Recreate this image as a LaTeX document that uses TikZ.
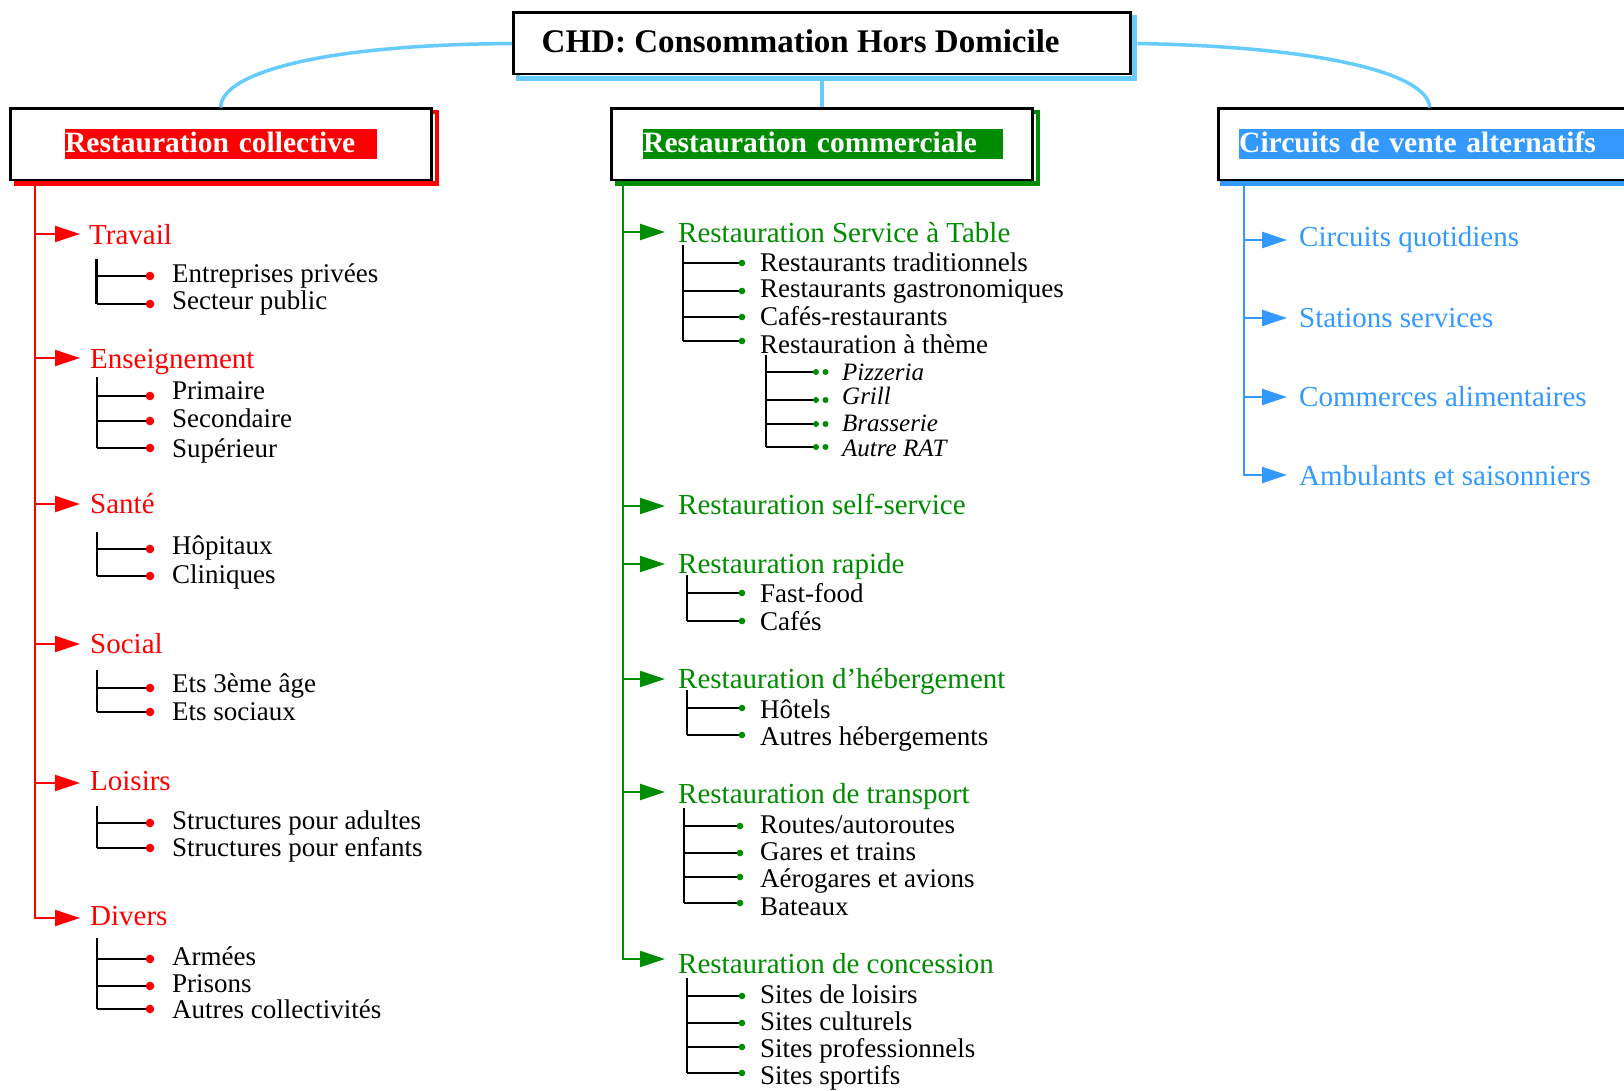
\documentclass[tikz,border=0pt]{standalone}
\usepackage{fontspec}
\setmainfont{Liberation Serif}
\usetikzlibrary{arrows.meta}
\definecolor{cred}{RGB}{255,0,0}
\definecolor{cgreen}{RGB}{0,140,0}
\definecolor{cblue}{RGB}{51,153,255}
\definecolor{clight}{RGB}{102,204,255}
\newcommand\subtr[7]{%
  \draw[blk] (#1,#2) -- (#1,#3);
  \foreach \h in {#4} {\draw[blk] (#1,\h) -- (#5,\h); \fill[#6] (#5,\h) circle (#7);}%
}
\begin{document}
\begin{tikzpicture}[x=1pt,y=-1pt,
  box/.style={draw=black,line width=2.5pt,fill=white,inner sep=0pt,anchor=north west},
  shad/.style={line width=4.5pt},
  conn/.style={draw=clight,line width=3.5pt},
  ttl/.style={text=white,font=\bfseries\fontsize{29.5}{34}\selectfont,inner sep=0pt,minimum height=30pt,text height=23pt,text depth=7pt,align=left,anchor=north west},
  headtext/.style={font=\fontsize{29}{34}\selectfont,inner sep=0pt,anchor=base west},
  itemtext/.style={font=\fontsize{27}{32}\selectfont,inner sep=0pt,anchor=base west},
  itemital/.style={font=\itshape\fontsize{25}{30}\selectfont,inner sep=0pt,anchor=base west},
  arr/.style={-{Triangle[length=25pt,width=16pt]}},
  blk/.style={draw=black,line width=2.2pt},
  redl/.style={draw=cred,line width=2pt},
  grnl/.style={draw=cgreen,line width=2pt},
  blul/.style={draw=cblue,line width=2.4pt},
]
\useasboundingbox (0,0) rectangle (1624,1091);
\fill[white] (0,0) rectangle (1624,1091);

% shadows
\draw[shad,clight] (518,17) rectangle (1134.5,78.5);
\draw[shad,cred] (16,112) rectangle (437,183.5);
\draw[shad,cgreen] (617,112) rectangle (1038,183.5);
\draw[shad,cblue] (1222,112) rectangle (1660,183.5);

% boxes
\node[box,minimum width=617pt,minimum height=61.5pt] (chd) at (512,11.5) {};
\node[box,minimum width=421pt,minimum height=71.5pt] (coll) at (9,107.5) {};
\node[box,minimum width=421pt,minimum height=71.5pt] (comm) at (610,107.5) {};
\node[box,minimum width=423pt,minimum height=71.5pt] (circ) at (1217,107.5) {};

% connectors from top box
\draw[conn] (chd.west) .. controls (300,45) and (220,78) .. (coll.north);
\draw[conn] ([xshift=6pt]chd.east) .. controls (1330,47) and (1428,75) .. (circ.north);
\draw[conn] ([yshift=-5pt]chd.south) -- (comm.north);

% titles
\node[anchor=base west,inner sep=0pt,font=\bfseries\fontsize{33}{38}\selectfont] (chdt) at (541.5,53) {CHD: Consommation Hors Domicile};
\node[ttl,fill=cred,text width=312pt] (tcoll) at (65,129) {Restauration collective};
\node[ttl,fill=cgreen,text width=360pt] (tcomm) at (643,129) {Restauration commerciale};
\node[ttl,fill=cblue,text width=420pt] (tcirc) at (1239,129) {Circuits de vente alternatifs};

% ---------- left column ----------
\draw[redl] (35,183.5) -- (35,918) -- (40,918);
\foreach \y in {234,358,504,644,783,918} \draw[redl,arr,draw=cred,fill=cred] (35,\y) -- (80,\y);
\begin{scope}[text=cred]
\node[headtext] (l1) at (89,245) {Travail};
\node[headtext] (l2) at (90,368) {Enseignement};
\node[headtext] (l3) at (90,513) {Santé};
\node[headtext] (l4) at (90,653) {Social};
\node[headtext] (l5) at (90,790) {Loisirs};
\node[headtext] (l6) at (90,925) {Divers};
\end{scope}
\subtr{96.5}{259}{304}{276,304}{150}{cred}{4.3pt}
\subtr{97}{377}{448}{396,421,448}{150}{cred}{4.3pt}
\subtr{97}{532}{576}{549,576}{150}{cred}{4.3pt}
\subtr{97}{670}{712}{688,712}{150}{cred}{4.3pt}
\subtr{97}{806}{848}{823,848}{150}{cred}{4.3pt}
\subtr{97}{938}{1009}{959,986,1009}{150}{cred}{4.3pt}
\node[itemtext] (l1a) at (172,283) {Entreprises privées};
\node[itemtext] (l1b) at (172,309) {Secteur public};
\node[itemtext] (l2a) at (172,399) {Primaire};
\node[itemtext] (l2b) at (172,427) {Secondaire};
\node[itemtext] (l2c) at (172,457) {Supérieur};
\node[itemtext] (l3a) at (172,554) {Hôpitaux};
\node[itemtext] (l3b) at (172,583) {Cliniques};
\node[itemtext] (l4a) at (172,692) {Ets 3ème âge};
\node[itemtext] (l4b) at (172,720) {Ets sociaux};
\node[itemtext] (l5a) at (172,829) {Structures pour adultes};
\node[itemtext] (l5b) at (172,856) {Structures pour enfants};
\node[itemtext] (l6a) at (172,965) {Armées};
\node[itemtext] (l6b) at (172,992) {Prisons};
\node[itemtext] (l6c) at (172,1018) {Autres collectivités};

% ---------- middle column ----------
\draw[grnl] (623,183.5) -- (623,959) -- (628,959);
\foreach \y in {232,506,564,679,792,959} \draw[grnl,arr,fill=cgreen] (623,\y) -- (665,\y);
\begin{scope}[text=cgreen]
\node[headtext] (m1) at (678,243) {Restauration Service à Table};
\node[headtext] (m2) at (678,514) {Restauration self-service};
\node[headtext] (m3) at (678,573) {Restauration rapide};
\node[headtext] (m4) at (678,688) {Restauration d’hébergement};
\node[headtext] (m5) at (678,803) {Restauration de transport};
\node[headtext] (m6) at (678,973) {Restauration de concession};
\end{scope}
\subtr{683}{245}{341}{263,291,317,341}{742}{cgreen}{3.3pt}
\subtr{766}{355}{447}{372,400,424,447}{816}{cgreen}{3pt}
\foreach \h in {372,400,424,447} \fill[cgreen] (825.5,\h) circle (3pt);
\subtr{687}{575}{621}{593,621}{742}{cgreen}{3.3pt}
\subtr{687}{690}{735}{708,735}{742}{cgreen}{3.3pt}
\subtr{684}{808}{903}{826,853,877,903}{740}{cgreen}{3.3pt}
\subtr{687}{978}{1073}{996,1023,1047,1073}{742}{cgreen}{3.3pt}
\node[itemtext] (m1a) at (760,272) {Restaurants traditionnels};
\node[itemtext] (m1b) at (760,298) {Restaurants gastronomiques};
\node[itemtext] (m1c) at (760,325) {Cafés-restaurants};
\node[itemtext] (m1d) at (760,353) {Restauration à thème};
\node[itemital] (m1d1) at (842,380) {Pizzeria};
\node[itemital] (m1d2) at (842,404) {Grill};
\node[itemital] (m1d3) at (842,431) {Brasserie};
\node[itemital] (m1d4) at (842,456) {Autre RAT};
\node[itemtext] (m3a) at (760,602) {Fast-food};
\node[itemtext] (m3b) at (760,630) {Cafés};
\node[itemtext] (m4a) at (760,718) {Hôtels};
\node[itemtext] (m4b) at (760,745) {Autres hébergements};
\node[itemtext] (m5a) at (760,833) {Routes/autoroutes};
\node[itemtext] (m5b) at (760,860) {Gares et trains};
\node[itemtext] (m5c) at (760,887) {Aérogares et avions};
\node[itemtext] (m5d) at (760,915) {Bateaux};
\node[itemtext] (m6a) at (760,1003) {Sites de loisirs};
\node[itemtext] (m6b) at (760,1030) {Sites culturels};
\node[itemtext] (m6c) at (760,1057) {Sites professionnels};
\node[itemtext] (m6d) at (760,1084) {Sites sportifs};

% ---------- right column ----------
\draw[blul] (1244,183.5) -- (1244,475) -- (1249,475);
\foreach \y in {240,318,397,475} \draw[blul,arr,fill=cblue] (1244,\y) -- (1287,\y);
\begin{scope}[text=cblue]
\node[headtext] (r1) at (1299,247) {Circuits quotidiens};
\node[headtext] (r2) at (1299,327) {Stations services};
\node[headtext] (r3) at (1299,406) {Commerces alimentaires};
\node[headtext] (r4) at (1299,485) {Ambulants et saisonniers};
\end{scope}
\end{tikzpicture}
\end{document}
